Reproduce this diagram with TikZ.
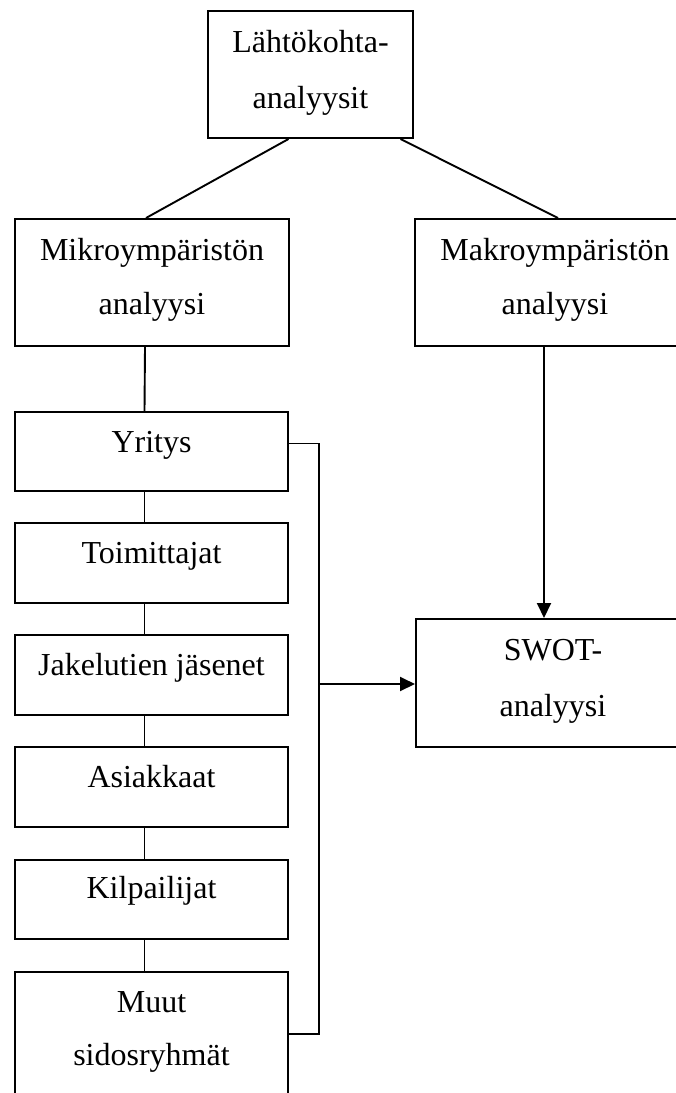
\documentclass[tikz,border=0pt]{standalone}
\usepackage{fontspec}
\setmainfont{Liberation Serif}
\usetikzlibrary{arrows.meta}
\begin{document}
\begin{tikzpicture}[x=1pt,y=-1pt,
  box/.style={draw, line width=2pt, rectangle, inner sep=0pt, anchor=north west},
  wide/.style={box, minimum width=274pt, minimum height=127pt},
  item/.style={box, minimum width=273pt, minimum height=79pt},
  lbl/.style={anchor=base, inner sep=0pt, font=\fontsize{32}{56}\selectfont},
  link/.style={line width=1.9pt},
  arr/.style={line width=1.9pt, -{Triangle[length=15pt,width=14pt]}}]
\useasboundingbox (0,0) rectangle (676,1093);

% top level
\node[box, minimum width=205pt, minimum height=127pt] (top) at (207,10) {};
\node[lbl] (top-1) at ([yshift=-42pt]top.north) {Lähtökohta-};
\node[lbl] (top-2) at ([yshift=-98pt]top.north) {analyysit};

% second level
\node[wide] (mikro) at (14,218) {};
\node[lbl] (mikro-1) at ([yshift=-42pt]mikro.north) {Mikroympäristön};
\node[lbl] (mikro-2) at ([yshift=-96pt]mikro.north) {analyysi};

\node[wide] (makro) at (414,218) {};
\node[lbl] (makro-1) at ([xshift=3pt,yshift=-42pt]makro.north) {Makroympäristön};
\node[lbl] (makro-2) at ([xshift=3pt,yshift=-96pt]makro.north) {analyysi};

% SWOT
\node[wide, minimum height=128pt] (swot) at (415,618) {};
\node[lbl] (swot-1) at ([yshift=-42pt]swot.north) {SWOT-};
\node[lbl] (swot-2) at ([yshift=-98pt]swot.north) {analyysi};

% micro environment actors
\node[item] (yritys) at (14,411) {};
\node[lbl] (yritys-t) at ([yshift=-41pt]yritys.north) {Yritys};
\node[item, minimum height=80pt] (toim) at (14,522) {};
\node[lbl] (toim-t) at ([yshift=-41pt]toim.north) {Toimittajat};
\node[item, minimum height=80pt] (jakelu) at (14,634) {};
\node[lbl] (jakelu-t) at ([yshift=-41pt]jakelu.north) {Jakelutien jäsenet};
\node[item, minimum height=80pt] (asiak) at (14,746) {};
\node[lbl] (asiak-t) at ([yshift=-41pt]asiak.north) {Asiakkaat};
\node[item] (kilp) at (14,859) {};
\node[lbl] (kilp-t) at ([yshift=-39pt]kilp.north) {Kilpailijat};
\node[item, minimum height=140pt] (muut) at (14,971) {};
\node[lbl] (muut-1) at ([yshift=-41pt]muut.north) {Muut};
\node[lbl] (muut-2) at ([yshift=-94pt]muut.north) {sidosryhmät};

% connectors
\draw[link] ([xshift=-22pt]top.south) -- ([xshift=-6pt]mikro.north);
\draw[link] ([xshift=90pt]top.south) -- ([xshift=6pt]makro.north);
\draw[link] ([xshift=-7pt]mikro.south) -- ([xshift=-7pt]yritys.north);
\draw[link] ([xshift=-7pt]yritys.south) -- ([xshift=-7pt]toim.north);
\draw[link] ([xshift=-7pt]toim.south) -- ([xshift=-7pt]jakelu.north);
\draw[link] ([xshift=-7pt]jakelu.south) -- ([xshift=-7pt]asiak.north);
\draw[link] ([xshift=-7pt]asiak.south) -- ([xshift=-7pt]kilp.north);
\draw[link] ([xshift=-7pt]kilp.south) -- ([xshift=-7pt]muut.north);

\coordinate (bus) at (319,684);
\draw[link] ([yshift=8pt]yritys.east) -| (bus) |- (muut.south east |- 0,1034);
\draw[arr] (bus) -- (swot.west |- bus);
\draw[arr] ([xshift=-8pt]makro.south) -- ([xshift=-8pt]makro.south |- swot.north);
\end{tikzpicture}
\end{document}
